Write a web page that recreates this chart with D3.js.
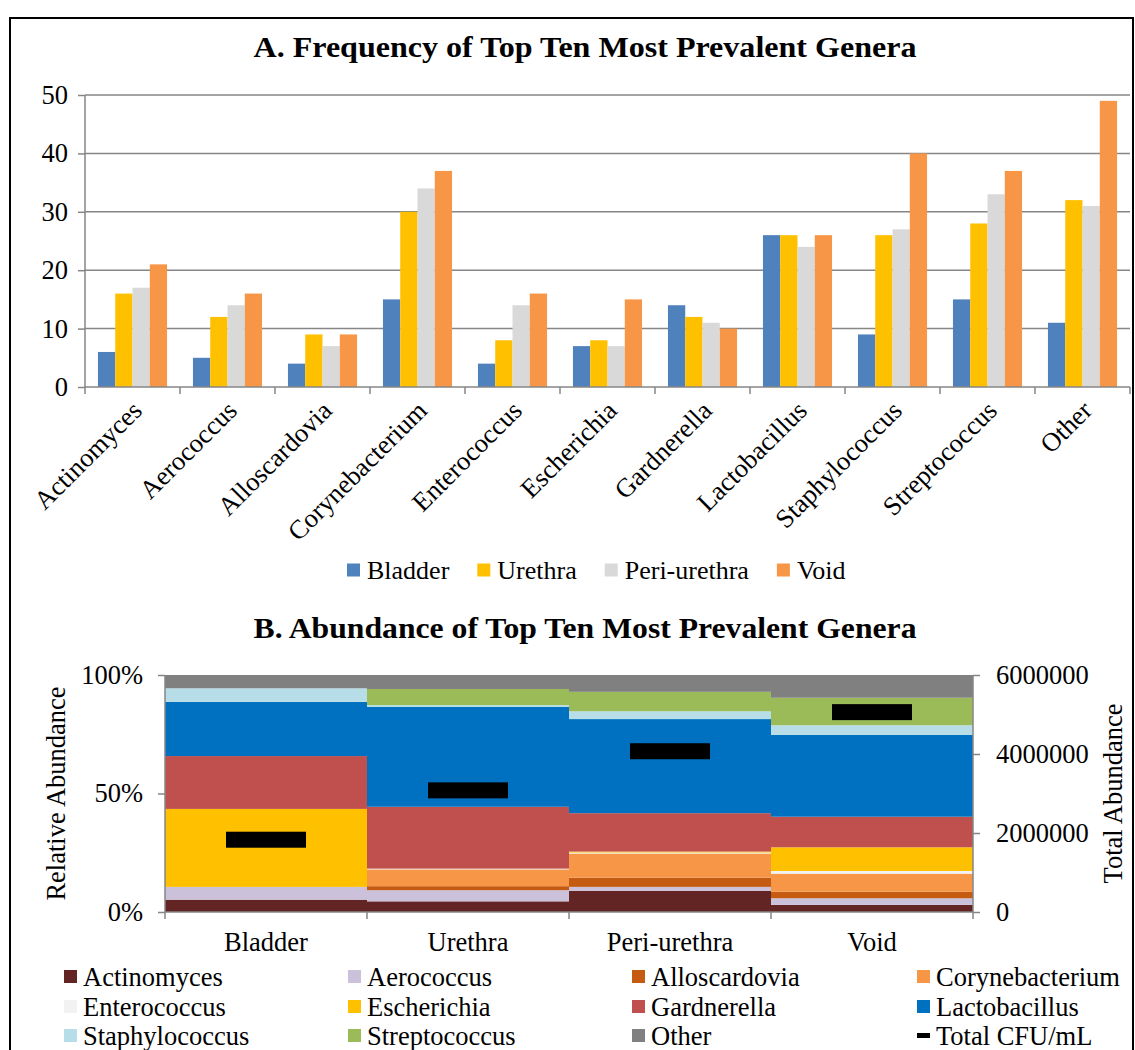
<!DOCTYPE html>
<html>
<head>
<meta charset="utf-8">
<script src="https://cdn.jsdelivr.net/npm/d3@7"></script>
<style>
  html, body { margin: 0; padding: 0; background: #fff; }
  svg { display: block; font-family: "Liberation Serif", "Times New Roman", serif; }
</style>
</head>
<body>
<svg id="chart" width="1135" height="1050"></svg>
<script>
// ---------- DATA ----------
const genera = ["Actinomyces","Aerococcus","Alloscardovia","Corynebacterium","Enterococcus","Escherichia","Gardnerella","Lactobacillus","Staphylococcus","Streptococcus","Other"];
const sites = ["Bladder","Urethra","Peri-urethra","Void"];

// Panel A: frequency (count) per genus for each site
const freqBladder = [6, 5, 4, 15, 4, 7, 14, 26, 9, 15, 11];
const freqUrethra = [16, 12, 9, 30, 8, 8, 12, 26, 26, 28, 32];
const freqPeri    = [17, 14, 7, 34, 14, 7, 11, 24, 27, 33, 31];
const freqVoid    = [21, 16, 9, 37, 16, 15, 10, 26, 40, 37, 49];
const freqTicks = [0, 10, 20, 30, 40, 50];

// Panel B: relative abundance (%) per genus for each site (genus order as above)
const abundBladder = [5.2, 5.4, 0, 0, 0, 32.9, 22.3, 22.9, 5.7, 0, 5.6];
const abundUrethra = [4.5, 4.7, 1.7, 7.1, 0.3, 0, 26.1, 42.1, 0.8, 6.8, 5.9];
const abundPeri    = [8.9, 1.7, 3.9, 10.2, 0.4, 0.4, 16.2, 39.7, 3.3, 8.2, 7.1];
const abundVoid    = [3.0, 2.8, 2.8, 7.6, 1.1, 10.0, 12.9, 34.5, 4.1, 11.6, 9.6];
const totalCFU = [1830000, 3080000, 4070000, 5060000];
const pctTicks = [0, 0.5, 1];
const cfuTicks = [0, 2000000, 4000000, 6000000];

// ---------- STYLE ----------
const siteColors = ["#4F81BD", "#FFC000", "#D9D9D9", "#F79646"];
const genusColors = ["#632523", "#CCC1DA", "#C55A11", "#F79646", "#F2F2F2", "#FFC000", "#C0504D", "#0070C0", "#B7DEE8", "#9BBB59", "#808080"];
const axisGrey = "#868686";
const FS = 26.5;
const FF = "Liberation Serif, Times New Roman, serif";

const svg = d3.select("#chart");

// frame
svg.append("path").attr("d", "M10,1050 V18 H1133 V1050").attr("fill", "none").attr("stroke", "#000").attr("stroke-width", 2);

// ===================== PANEL A =====================
const A = { left: 85, right: 1130, top: 95, bottom: 387 };
const freqSeries = [freqBladder, freqUrethra, freqPeri, freqVoid];

svg.append("text").attr("x", 585).attr("y", 57).attr("text-anchor", "middle")
  .attr("font-weight", "bold").attr("font-size", 30)
  .attr("textLength", 663).attr("lengthAdjust", "spacingAndGlyphs")
  .text("A. Frequency of Top Ten Most Prevalent Genera");

const xA = d3.scaleBand().domain(genera).range([A.left, A.right]).padding(0);
const xA2 = d3.scaleBand().domain(sites).range([0, xA.bandwidth()]).paddingInner(0).paddingOuter(0.75);
const yA = d3.scaleLinear().domain([0, 50]).range([A.bottom, A.top]);

// gridlines
svg.append("g").selectAll("line").data(freqTicks.filter(t => t > 0)).join("line")
  .attr("x1", A.left).attr("x2", A.right)
  .attr("y1", d => yA(d)).attr("y2", d => yA(d))
  .attr("stroke", axisGrey).attr("stroke-width", 1.5);

// y axis
const yAxisA = svg.append("g").attr("transform", `translate(${A.left},0)`)
  .call(d3.axisLeft(yA).tickValues(freqTicks).tickSize(7).tickPadding(10));
yAxisA.select(".domain").attr("stroke", axisGrey).attr("stroke-width", 1.5).attr("d", `M0,${A.top}V${A.bottom}`);
yAxisA.selectAll(".tick line").attr("stroke", axisGrey).attr("stroke-width", 1.5);
yAxisA.selectAll(".tick text").attr("font-size", FS).attr("font-family", FF).attr("fill", "#000");

// bars
freqSeries.forEach((vals, si) => {
  svg.append("g").selectAll("rect").data(vals).join("rect")
    .attr("x", (d, i) => xA(genera[i]) + xA2(sites[si]))
    .attr("width", xA2.bandwidth())
    .attr("y", d => yA(d))
    .attr("height", d => yA(0) - yA(d))
    .attr("fill", siteColors[si]);
});

// x axis: line with ticks between categories
const xAxisA = svg.append("g");
xAxisA.append("line").attr("x1", A.left).attr("x2", A.right).attr("y1", A.bottom).attr("y2", A.bottom)
  .attr("stroke", axisGrey).attr("stroke-width", 1.5);
const boundsA = genera.map(g => xA(g)).concat([A.right]);
xAxisA.selectAll("line.tk").data(boundsA).join("line")
  .attr("class", "tk")
  .attr("x1", d => d).attr("x2", d => d).attr("y1", A.bottom).attr("y2", A.bottom + 7)
  .attr("stroke", axisGrey).attr("stroke-width", 1.5);
xAxisA.selectAll("text").data(genera).join("text")
  .attr("transform", d => `translate(${xA(d) + xA.bandwidth() / 2 - 2},${A.bottom + 12}) rotate(-45)`)
  .attr("text-anchor", "end").attr("dy", "0.7em")
  .attr("font-size", FS).text(d => d);

// legend A
const legA = svg.append("g").attr("transform", "translate(347,570)");
let lx = 0;
sites.forEach((s, i) => {
  const g = legA.append("g").attr("transform", `translate(${lx},0)`);
  g.append("rect").attr("x", 0).attr("y", -6.5).attr("width", 13).attr("height", 13).attr("fill", siteColors[i]);
  const t = g.append("text").attr("x", 20).attr("y", 0).attr("dy", "0.35em").attr("font-size", 26).text(s);
  lx += 20 + t.node().getComputedTextLength() + 28;
});

// ===================== PANEL B =====================
const B = { left: 165, right: 973, top: 675, bottom: 912 };
const abundSeries = [abundBladder, abundUrethra, abundPeri, abundVoid];

svg.append("text").attr("x", 585).attr("y", 638).attr("text-anchor", "middle")
  .attr("font-weight", "bold").attr("font-size", 30)
  .attr("textLength", 663).attr("lengthAdjust", "spacingAndGlyphs")
  .text("B. Abundance of Top Ten Most Prevalent Genera");

const xB = d3.scaleBand().domain(sites).range([B.left, B.right]).padding(0);
const yB = d3.scaleLinear().domain([0, 1]).range([B.bottom, B.top]);
const yB2 = d3.scaleLinear().domain([0, 6000000]).range([B.bottom, B.top]);

const tableB = sites.map((s, si) => {
  const o = { site: s };
  const tot = d3.sum(abundSeries[si]);
  genera.forEach((g, gi) => { o[g] = abundSeries[si][gi] / tot; });
  return o;
});
const stackB = d3.stack().keys(genera)(tableB);

svg.append("g").selectAll("g").data(stackB).join("g")
  .attr("fill", (d, i) => genusColors[i])
  .selectAll("rect").data(d => d).join("rect")
  .attr("x", d => xB(d.data.site))
  .attr("width", xB.bandwidth())
  .attr("y", d => yB(d[1]))
  .attr("height", d => Math.max(0, yB(d[0]) - yB(d[1])));

// left axis
const yAxisB = svg.append("g").attr("transform", `translate(${B.left},0)`)
  .call(d3.axisLeft(yB).tickValues(pctTicks).tickFormat(d3.format(".0%")).tickSize(7).tickPadding(15));
yAxisB.select(".domain").attr("stroke", axisGrey).attr("stroke-width", 1.5).attr("d", `M0,${B.top}V${B.bottom}`);
yAxisB.selectAll(".tick line").attr("stroke", axisGrey).attr("stroke-width", 1.5);
yAxisB.selectAll(".tick text").attr("font-size", FS).attr("font-family", FF).attr("fill", "#000");

// right axis
const yAxisB2 = svg.append("g").attr("transform", `translate(${B.right},0)`)
  .call(d3.axisRight(yB2).tickValues(cfuTicks).tickFormat(d3.format("d")).tickSize(7).tickPadding(16));
yAxisB2.select(".domain").attr("stroke", axisGrey).attr("stroke-width", 1.5).attr("d", `M0,${B.top}V${B.bottom}`);
yAxisB2.selectAll(".tick line").attr("stroke", axisGrey).attr("stroke-width", 1.5);
yAxisB2.selectAll(".tick text").attr("font-size", FS).attr("font-family", FF).attr("fill", "#000");

// x axis B
const xAxisB = svg.append("g");
xAxisB.append("line").attr("x1", B.left).attr("x2", B.right).attr("y1", B.bottom).attr("y2", B.bottom)
  .attr("stroke", axisGrey).attr("stroke-width", 1.5);
const boundsB = sites.map(s => xB(s)).concat([B.right]);
xAxisB.selectAll("line.tk").data(boundsB).join("line")
  .attr("class", "tk")
  .attr("x1", d => d).attr("x2", d => d).attr("y1", B.bottom).attr("y2", B.bottom + 7)
  .attr("stroke", axisGrey).attr("stroke-width", 1.5);
xAxisB.selectAll("text").data(sites).join("text")
  .attr("x", d => xB(d) + xB.bandwidth() / 2).attr("y", 951)
  .attr("text-anchor", "middle").attr("font-size", FS).text(d => d);

// total CFU markers
svg.append("g").selectAll("rect").data(totalCFU).join("rect")
  .attr("x", (d, i) => xB(sites[i]) + xB.bandwidth() / 2 - 40)
  .attr("width", 80)
  .attr("y", d => yB2(d) - 8)
  .attr("height", 16)
  .attr("fill", "#000");

// axis titles
svg.append("text").attr("transform", `translate(65,${(B.top + B.bottom) / 2}) rotate(-90)`)
  .attr("text-anchor", "middle").attr("font-size", FS).text("Relative Abundance");
svg.append("text").attr("transform", `translate(1122,${(B.top + B.bottom) / 2}) rotate(-90)`)
  .attr("text-anchor", "middle").attr("font-size", FS).text("Total Abundance");

// legend B
const legCols = [64, 348, 632, 917];
const legRows = [977, 1007, 1036];
const legItems = genera.map((g, i) => ({ name: g, color: genusColors[i], line: false }))
  .concat([{ name: "Total CFU/mL", color: "#000", line: true }]);
const legB = svg.append("g");
legItems.forEach((it, i) => {
  const cx = legCols[i % 4], cy = legRows[Math.floor(i / 4)];
  if (it.line) {
    legB.append("rect").attr("x", cx).attr("y", cy - 3).attr("width", 13).attr("height", 5).attr("fill", it.color);
  } else {
    legB.append("rect").attr("x", cx).attr("y", cy - 7).attr("width", 13).attr("height", 13).attr("fill", it.color);
  }
  legB.append("text").attr("x", cx + 19).attr("y", cy).attr("dy", "0.35em").attr("font-size", FS).text(it.name);
});
</script>
</body>
</html>
